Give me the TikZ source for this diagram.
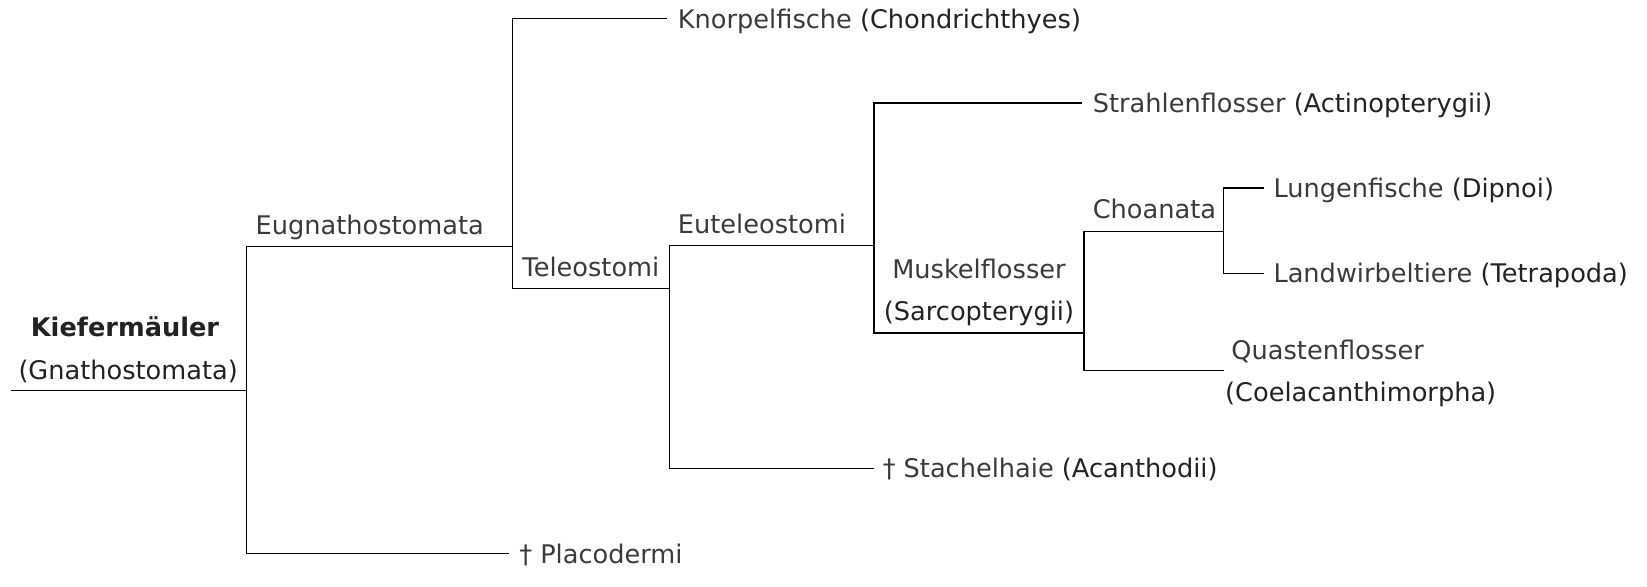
\documentclass[tikz,border=0pt]{standalone}
\usepackage{fontspec}
\setmainfont{DejaVu Sans}
\definecolor{lbl}{HTML}{3A3A3A}
\definecolor{lat}{HTML}{222222}
\newcommand{\lt}[1]{\textcolor{lat}{#1}}
\begin{document}
\begin{tikzpicture}[x=0.5pt,y=-0.5pt,
  txt/.style={inner sep=0pt,anchor=west,text=lbl,font=\fontsize{12.2}{14}\selectfont,text height=9pt,text depth=3pt,yshift=-1.5pt},
  ctxt/.style={txt,anchor=center},
  branch/.style={draw=black,line width=0.55pt}]
\useasboundingbox (0,0) rectangle (1568,558);
% labels
\node[ctxt,text=lat,font=\fontsize{12.2}{14}\selectfont\bfseries] (kief) at (119,311) {Kieferm\"auler};
\node[ctxt,text=lat] (gnath) at (122,352) {(Gnathostomata)};
\node[txt] (eug) at (243,214) {Eugnathostomata};
\node[txt] (knorp) at (645,18) {Knorpelfische \lt{(Chondrichthyes)}};
\node[txt] (tele) at (497,254) {Teleostomi};
\node[txt] (eut) at (645,213) {Euteleostomi};
\node[txt] (strah) at (1040,98) {Strahlenflosser \lt{(Actinopterygii)}};
\node[ctxt] (musk) at (932,256) {Muskelflosser};
\node[ctxt,text=lat] (sarc) at (932,296) {(Sarcopterygii)};
\node[txt] (choan) at (1040,199) {Choanata};
\node[txt] (lung) at (1212,179) {Lungenfische \lt{(Dipnoi)}};
\node[txt] (land) at (1212,260) {Landwirbeltiere \lt{(Tetrapoda)}};
\node[txt] (quast) at (1172,333) {Quastenflosser};
\node[txt,text=lat] (coel) at (1166,373) {(Coelacanthimorpha)};
\node[txt] (stach) at (840,446) {\dag{} Stachelhaie \lt{(Acanthodii)}};
\node[txt] (plac) at (494,527) {\dag{} Placodermi};
% junctions
\coordinate (s) at (10,372);
\coordinate (A) at (235,372);
\coordinate (B) at (488,235);
\coordinate (Pl) at (485,527);
\coordinate (Kn) at (635,18);
\coordinate (C) at (637,275);
\coordinate (D) at (832,234);
\coordinate (St) at (832,446);
\coordinate (Sr) at (1030,98);
\coordinate (E) at (1032,317);
\coordinate (F) at (1165,220);
\coordinate (Q) at (1165,353);
\coordinate (Lu) at (1203,179);
\coordinate (La) at (1203,260);
% branches
\draw[branch] (s) -- (A);
\draw[branch] (B) -| (A) |- (Pl);
\draw[branch] (Kn) -| (B) |- (C);
\draw[branch] (D) -| (C) |- (St);
\draw[branch] (Sr) -| (D) |- (E);
\draw[branch] (F) -| (E) |- (Q);
\draw[branch] (Lu) -| (F) |- (La);
\end{tikzpicture}
\end{document}
